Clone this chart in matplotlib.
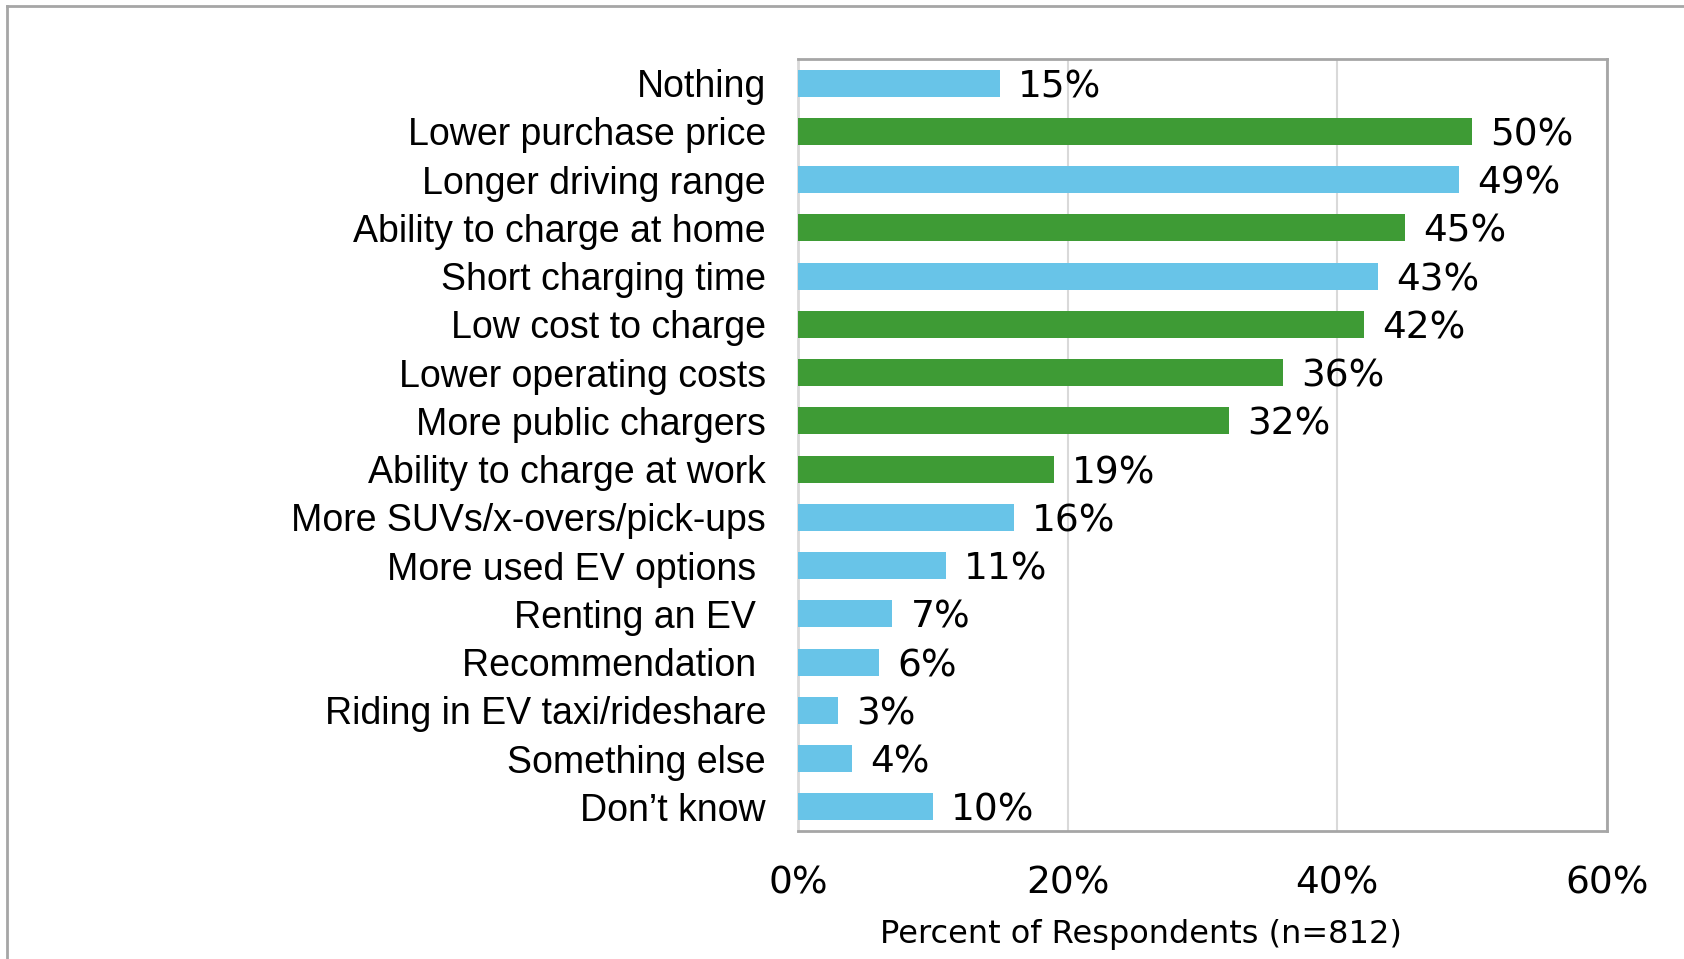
import matplotlib
matplotlib.use("Agg")
import matplotlib.pyplot as plt
from matplotlib.lines import Line2D

# survey answers, top to bottom
labels = [
    "Nothing",
    "Lower purchase price",
    "Longer driving range",
    "Ability to charge at home",
    "Short charging time",
    "Low cost to charge",
    "Lower operating costs",
    "More public chargers",
    "Ability to charge at work",
    "More SUVs/x-overs/pick-ups",
    "More used EV options ",
    "Renting an EV ",
    "Recommendation ",
    "Riding in EV taxi/rideshare",
    "Something else",
    "Don\u2019t know",
]
pct = [15, 50, 49, 45, 43, 42, 36, 32, 19, 16, 11, 7, 6, 3, 4, 10]
group = ["b", "g", "b", "g", "b", "g", "g", "g", "g", "b", "b", "b", "b", "b", "b", "b"]

xticks = [0, 20, 40, 60]
xlabel = "Percent of Respondents (n=812)"

BLUE = "#68c4e8"
GREEN = "#3e9b35"
FRAME = "#a6a6a6"
GRID = "#d9d9d9"

W, H = 1684, 959
fig = plt.figure(figsize=(W / 100, H / 100), dpi=100)
ax = fig.add_axes([798 / W, 1 - 831 / H, 809 / W, 772 / H])

ypos = list(range(len(labels)))
colors = [GREEN if g == "g" else BLUE for g in group]
ax.barh(ypos, pct, height=0.56, color=colors, zorder=3)

for y, v in zip(ypos, pct):
    ax.annotate(f"{v}%", (v, y), xytext=(13, 0), textcoords="offset points",
                ha="left", va="center_baseline", fontsize=27,
                family="DejaVu Sans", color="black")

ax.set_xlim(0, 60)
ax.set_ylim(len(labels) - 0.5, -0.5)
ax.set_xticks(xticks)
ax.set_xticklabels([f"{t}%" for t in xticks], fontsize=27, family="DejaVu Sans")
ax.set_yticks(ypos)
ax.set_yticklabels(labels, fontsize=27, family="Liberation Sans")
ax.tick_params(axis="x", length=0, pad=25)
ax.tick_params(axis="y", length=0, pad=23)

ax.grid(axis="x", color=GRID, linewidth=1.5, zorder=0)
for side in ("top", "right", "bottom"):
    ax.spines[side].set_color(FRAME)
    ax.spines[side].set_linewidth(2)
ax.spines["left"].set_color(GRID)
ax.spines["left"].set_linewidth(2)

fig.text(1141 / W, 1 - 935 / H, xlabel, ha="center", va="center",
         fontsize=23, family="DejaVu Sans")

# outer chart border (only top and left edges fall inside the canvas)
fig.add_artist(Line2D([7 / W, 7 / W], [0, 1 - 6 / H], transform=fig.transFigure,
                      color=FRAME, linewidth=2))
fig.add_artist(Line2D([7 / W, 1], [1 - 6 / H, 1 - 6 / H], transform=fig.transFigure,
                      color=FRAME, linewidth=2))

fig.savefig("out.png", dpi=100, facecolor="white")
